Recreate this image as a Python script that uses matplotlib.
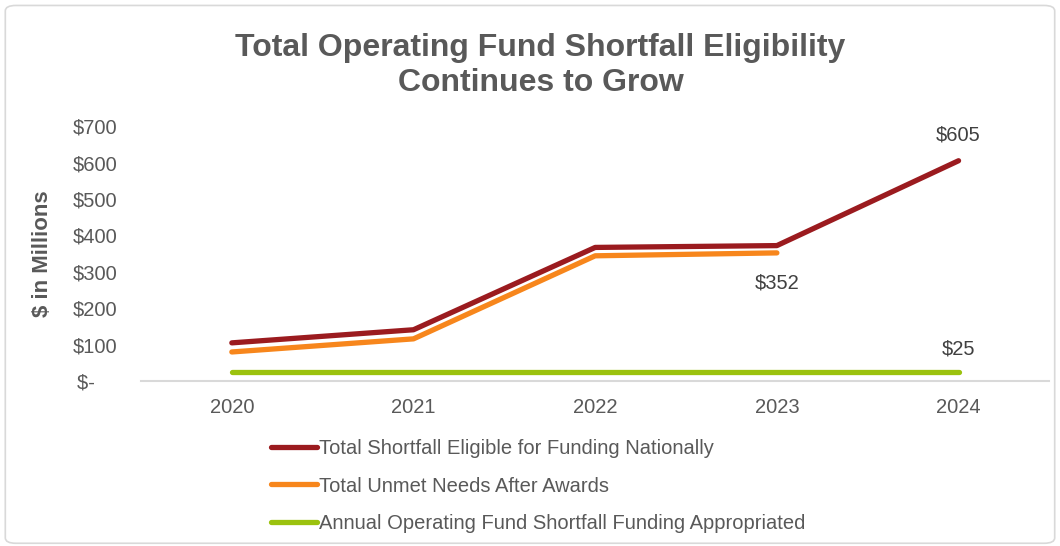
import matplotlib.pyplot as plt
from matplotlib.patches import FancyBboxPatch
from matplotlib.ticker import FuncFormatter

plt.rcParams['font.family'] = ['Liberation Sans', 'DejaVu Sans']

years = ['2020', '2021', '2022', '2023', '2024']
total_eligible = [105, 141, 367, 372, 605]
unmet_needs = [80, 116, 344, 352]
appropriated = [25, 25, 25, 25, 25]

names = ['Total Shortfall Eligible for Funding Nationally',
         'Total Unmet Needs After Awards',
         'Annual Operating Fund Shortfall Funding Appropriated']
colors = ['#9B1B1F', '#F7861C', '#9BC20E']
grey = '#595959'

fig = plt.figure(figsize=(10.6, 5.46), dpi=100)
ax = fig.add_axes([0.133, 0.302, 0.857, 0.467])

x = list(range(len(years)))
ax.plot(x, total_eligible, color=colors[0], lw=3.8, solid_capstyle='round', label=names[0])
ax.plot(x[:len(unmet_needs)], unmet_needs, color=colors[1], lw=3.8, solid_capstyle='round', label=names[1])
ax.plot(x, appropriated, color=colors[2], lw=3.8, solid_capstyle='round', label=names[2])

# data labels
ax.annotate('$%d' % total_eligible[-1], (x[-1], total_eligible[-1]), xytext=(0, 12),
            textcoords='offset points', ha='center', va='bottom', fontsize=14.5, color='#404040')
ax.annotate('$%d' % unmet_needs[-1], (x[len(unmet_needs) - 1], unmet_needs[-1]), xytext=(0, -15),
            textcoords='offset points', ha='center', va='top', fontsize=14.5, color='#404040')
ax.annotate('$%d' % appropriated[-1], (x[-1], appropriated[-1]), xytext=(0, 10),
            textcoords='offset points', ha='center', va='bottom', fontsize=14.5, color='#404040')

ax.set_xlim(-0.5, len(years) - 0.5)
ax.set_ylim(0, 700)
ax.set_xticks(x)
ax.set_xticklabels(years)
ax.set_yticks(range(0, 701, 100))
ax.yaxis.set_major_formatter(FuncFormatter(lambda v, p: '$-    ' if v == 0 else '$%d' % v))
ax.tick_params(length=0, labelsize=14.5, colors=grey)
ax.tick_params(axis='x', pad=12)
ax.tick_params(axis='y', pad=17)
for s in ['top', 'right', 'left']:
    ax.spines[s].set_visible(False)
ax.spines['bottom'].set_color('#D9D9D9')
ax.spines['bottom'].set_linewidth(1.5)
ax.set_ylabel('$ in Millions', fontsize=16, fontweight='bold', color=grey, labelpad=14)

fig.text(0.51, 0.880, 'Total Operating Fund Shortfall Eligibility\nContinues to Grow',
         ha='center', va='center', fontsize=23, fontweight='bold', color=grey, linespacing=1.25)

fig.legend(loc='upper left', bbox_to_anchor=(0.248, 0.21), frameon=False, fontsize=14.5,
           labelcolor=grey, handlelength=2.3, handletextpad=0.1, labelspacing=0.9,
           borderaxespad=0)

border = FancyBboxPatch((0.005, 0.005), 0.99, 0.985, boxstyle='round,pad=0,rounding_size=0.01',
                        transform=fig.transFigure, fill=False, edgecolor='#D9D9D9', lw=1.2)
fig.patches.append(border)

fig.savefig('out.png', dpi=100)
